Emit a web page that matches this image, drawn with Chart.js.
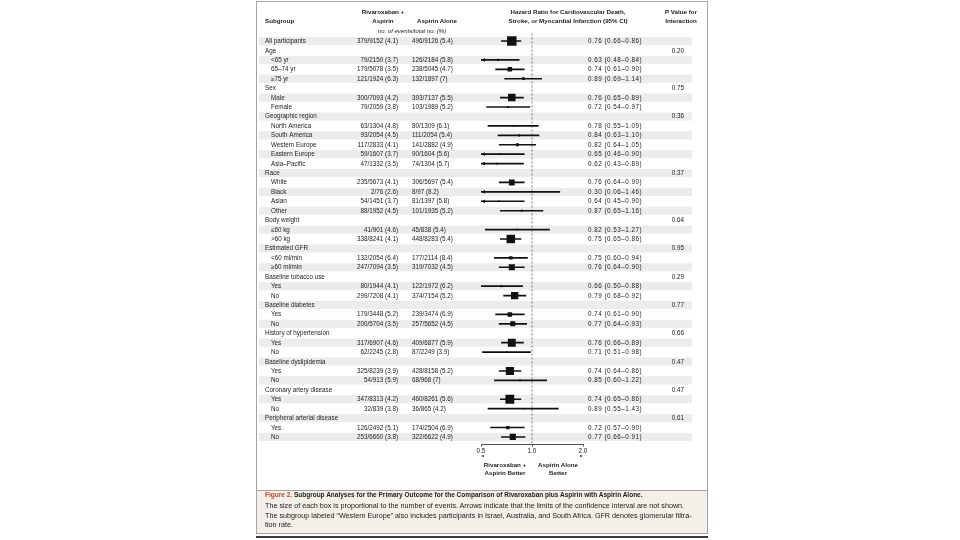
<!DOCTYPE html>
<html>
<head>
<meta charset="utf-8">
<script src="https://cdn.jsdelivr.net/npm/chart.js@4.4.1/dist/chart.umd.min.js"></script>
<style>
    html, body { margin: 0; padding: 0; background: #fff; }
    body { font-family: "Liberation Sans", Arial, sans-serif; color: #222; }
    #page { position: relative; width: 960px; height: 540px; overflow: hidden; }
    #forest { position: absolute; left: 0; top: 0; }
    .panel { position: absolute; left: 256px; top: 1px; width: 450px; height: 489px; border: 1px solid #a4a4a4; border-bottom: none; }
    .caption-box { position: absolute; left: 256px; top: 490px; width: 450px; height: 42px; background: #f3efe9; border: 1px solid #a4a4a4; }
    .rule { position: absolute; left: 256px; top: 536px; width: 452px; height: 2px; background: #3a3a3a; }
    .t { position: absolute; white-space: nowrap; line-height: 1; transform: translate(-50%, -50%); }
    .l { transform: translate(0, -50%); }
    .hd { font-weight: bold; font-size: 6.2px; }
    .ax { font-size: 6.2px; font-weight: bold; }
    .cap { font-size: 7.2px; color: #222; }
    .arr { position: absolute; width: 0; height: 0; border-top: 1.5px solid transparent; border-bottom: 1.5px solid transparent; }
</style>
</head>
<body>
<div id="page">
    <div class="panel"></div>
    <div class="caption-box"></div>
    <div class="rule"></div>
    <canvas id="forest" width="960" height="540"></canvas>

    <!-- column headers -->
    <div class="t l hd" style="left:265px; top:21px;">Subgroup</div>
    <div class="t hd" style="left:383px; top:12px;">Rivaroxaban +</div>
    <div class="t hd" style="left:383px; top:21px;">Aspirin</div>
    <div class="t hd" style="left:437px; top:21px;">Aspirin Alone</div>
    <div class="t" style="left:412px; top:31px; font-size:6px; font-style:italic;">no. of events/total no. (%)</div>
    <div class="t hd" style="left:568px; top:12px;">Hazard Ratio for Cardiovascular Death,</div>
    <div class="t hd" style="left:568px; top:21px;">Stroke, or Myocardial Infarction (95% CI)</div>
    <div class="t hd" style="left:681px; top:12px;">P Value for</div>
    <div class="t hd" style="left:681px; top:21px;">Interaction</div>

    <!-- direction labels under the axis -->
    <div class="arr" style="left:481px; top:455px; border-right:3px solid #222;"></div>
    <div class="arr" style="left:580px; top:455px; border-left:3px solid #222;"></div>
    <div class="t ax" style="left:505px; top:465px;">Rivaroxaban +</div>
    <div class="t ax" style="left:505px; top:473px;">Aspirin Better</div>
    <div class="t ax" style="left:558px; top:465px;">Aspirin Alone</div>
    <div class="t ax" style="left:558px; top:473px;">Better</div>

    <!-- caption -->
    <div class="t l cap" style="left:265px; top:495px; font-weight:bold; font-size:6.5px;"><span style="color:#c4452f;">Figure 2.</span> Subgroup Analyses for the Primary Outcome for the Comparison of Rivaroxaban plus Aspirin with Aspirin Alone.</div>
    <div class="t l cap" style="left:265px; top:506px;">The size of each box is proportional to the number of events. Arrows indicate that the limits of the confidence interval are not shown.</div>
    <div class="t l cap" style="left:265px; top:515.5px;">The subgroup labeled “Western Europe” also includes participants in Israel, Australia, and South Africa. GFR denotes glomerular filtra-</div>
    <div class="t l cap" style="left:265px; top:525px;">tion rate.</div>
</div>

<script>
// --- Data ---
const subgroups = [
    'All participants', 'Age', '<65 yr', '65–74 yr', '≥75 yr',
    'Sex', 'Male', 'Female',
    'Geographic region', 'North America', 'South America', 'Western Europe', 'Eastern Europe', 'Asia–Pacific',
    'Race', 'White', 'Black', 'Asian', 'Other',
    'Body weight', '≤60 kg', '>60 kg',
    'Estimated GFR', '<60 ml/min', '≥60 ml/min',
    'Baseline tobacco use', 'Yes', 'No',
    'Baseline diabetes', 'Yes', 'No',
    'History of hypertension', 'Yes', 'No',
    'Baseline dyslipidemia', 'Yes', 'No',
    'Coronary artery disease', 'Yes', 'No',
    'Peripheral arterial disease', 'Yes', 'No'
];

const rivaroxabanEvents = [
    '379/9152 (4.1)', null, '79/2150 (3.7)', '179/5078 (3.5)', '121/1924 (6.3)',
    null, '300/7093 (4.2)', '79/2059 (3.8)',
    null, '63/1304 (4.8)', '93/2054 (4.5)', '117/2833 (4.1)', '59/1607 (3.7)', '47/1332 (3.5)',
    null, '235/5673 (4.1)', '2/76 (2.6)', '54/1451 (3.7)', '88/1952 (4.5)',
    null, '41/901 (4.6)', '338/8241 (4.1)',
    null, '132/2054 (6.4)', '247/7094 (3.5)',
    null, '80/1944 (4.1)', '299/7208 (4.1)',
    null, '179/3448 (5.2)', '200/5704 (3.5)',
    null, '317/6907 (4.6)', '62/2245 (2.8)',
    null, '325/8239 (3.9)', '54/913 (5.9)',
    null, '347/8313 (4.2)', '32/839 (3.8)',
    null, '126/2492 (5.1)', '253/6660 (3.8)'
];

const aspirinEvents = [
    '496/9126 (5.4)', null, '126/2184 (5.8)', '238/5045 (4.7)', '132/1897 (7)',
    null, '393/7137 (5.5)', '103/1989 (5.2)',
    null, '80/1309 (6.1)', '111/2054 (5.4)', '141/2882 (4.9)', '90/1604 (5.6)', '74/1304 (5.7)',
    null, '306/5697 (5.4)', '8/97 (8.2)', '81/1397 (5.8)', '101/1935 (5.2)',
    null, '45/838 (5.4)', '448/8283 (5.4)',
    null, '177/2114 (8.4)', '319/7032 (4.5)',
    null, '122/1972 (6.2)', '374/7154 (5.2)',
    null, '239/3474 (6.9)', '257/5652 (4.5)',
    null, '409/6877 (5.9)', '87/2249 (3.9)',
    null, '428/8158 (5.2)', '68/968 (7)',
    null, '460/8261 (5.6)', '36/865 (4.2)',
    null, '174/2504 (6.9)', '322/6622 (4.9)'
];

const hazardRatio = [
    0.76, null, 0.63, 0.74, 0.89,
    null, 0.76, 0.72,
    null, 0.78, 0.84, 0.82, 0.65, 0.62,
    null, 0.76, 0.30, 0.64, 0.87,
    null, 0.82, 0.75,
    null, 0.75, 0.76,
    null, 0.66, 0.79,
    null, 0.74, 0.77,
    null, 0.76, 0.71,
    null, 0.74, 0.85,
    null, 0.74, 0.89,
    null, 0.72, 0.77
];

const ciLower = [
    0.66, null, 0.48, 0.61, 0.69,
    null, 0.65, 0.54,
    null, 0.55, 0.63, 0.64, 0.46, 0.43,
    null, 0.64, 0.06, 0.45, 0.65,
    null, 0.53, 0.65,
    null, 0.60, 0.64,
    null, 0.50, 0.68,
    null, 0.61, 0.64,
    null, 0.66, 0.51,
    null, 0.64, 0.60,
    null, 0.65, 0.55,
    null, 0.57, 0.66
];

const ciUpper = [
    0.86, null, 0.84, 0.90, 1.14,
    null, 0.89, 0.97,
    null, 1.09, 1.10, 1.05, 0.90, 0.89,
    null, 0.90, 1.46, 0.90, 1.16,
    null, 1.27, 0.86,
    null, 0.94, 0.90,
    null, 0.88, 0.92,
    null, 0.90, 0.93,
    null, 0.89, 0.98,
    null, 0.86, 1.22,
    null, 0.86, 1.43,
    null, 0.90, 0.91
];

const pInteraction = [
    null, '0.20', null, null, null,
    '0.75', null, null,
    '0.36', null, null, null, null, null,
    '0.37', null, null, null, null,
    '0.64', null, null,
    '0.95', null, null,
    '0.29', null, null,
    '0.77', null, null,
    '0.66', null, null,
    '0.47', null, null,
    '0.47', null, null,
    '0.61', null, null
];

const xTicks = [0.5, 1.0, 2.0];
const xMin = 0.5;
const xMax = 2.0;

// --- Build datasets ---
const fmt = v => v.toFixed(2);
const totalEvents = rivaroxabanEvents.map((r, i) => r === null ? 0 : parseInt(r) + parseInt(aspirinEvents[i]));
const maxEvents = totalEvents[0];

const boxPoints = [];
const boxRadius = [];
const ciBars = [];
const leftArrows = [];

hazardRatio.forEach((hr, i) => {
    if (hr === null) return;
    boxPoints.push({ x: hr, y: i });
    const side = Math.max(1.6, 9.5 * totalEvents[i] / maxEvents);
    boxRadius.push(side / Math.SQRT2);
    ciBars.push({ x: [Math.max(ciLower[i], xMin), Math.min(ciUpper[i], xMax)], y: i });
    if (ciLower[i] < xMin) leftArrows.push({ x: 0.52, y: i });
});

// --- Table text drawn against the row scale ---
const tablePlugin = {
    id: 'tableText',
    beforeDraw(chart) {
        const ctx = chart.ctx;
        const y = chart.scales.y;
        ctx.save();
        ctx.fillStyle = '#ececec';
        subgroups.forEach((_, i) => {
            if (i % 2 !== 0) return;
            const py = y.getPixelForValue(i);
            ctx.fillRect(259, py - 4.1, 433, 8.2);
        });
        ctx.restore();
    },
    afterDraw(chart) {
        const ctx = chart.ctx;
        const y = chart.scales.y;
        ctx.save();
        ctx.fillStyle = '#222';
        ctx.font = '6.3px "Liberation Sans", Arial, sans-serif';
        ctx.textBaseline = 'middle';
        subgroups.forEach((name, i) => {
            const py = y.getPixelForValue(i) + 0.3;
            const isSub = i > 0 && rivaroxabanEvents[i] !== null;
            ctx.textAlign = 'left';
            ctx.fillText(name, isSub ? 271 : 265, py);
            if (rivaroxabanEvents[i] !== null) {
                ctx.textAlign = 'right';
                ctx.fillText(rivaroxabanEvents[i], 398, py);
                ctx.textAlign = 'left';
                ctx.fillText(aspirinEvents[i], 412, py);
                // HR column is set a little looser in the original
                ctx.letterSpacing = '0.5px';
                ctx.fillText(`${fmt(hazardRatio[i])} (${fmt(ciLower[i])}–${fmt(ciUpper[i])})`, 588, py);
                ctx.letterSpacing = '0px';
            }
            if (pInteraction[i] !== null) {
                ctx.textAlign = 'right';
                ctx.fillText(pInteraction[i], 684, py);
            }
        });
        ctx.restore();
    }
};

const ctx = document.getElementById('forest').getContext('2d');

new Chart(ctx, {
    type: 'scatter',
    data: {
        datasets: [
            {
                // boxes
                type: 'scatter',
                data: boxPoints,
                pointStyle: 'rect',
                pointRadius: boxRadius,
                pointHoverRadius: boxRadius,
                backgroundColor: '#111',
                borderWidth: 0,
                order: 0
            },
            {
                // arrows for intervals beyond the axis
                type: 'scatter',
                data: leftArrows,
                pointStyle: 'triangle',
                rotation: -90,
                pointRadius: 2.2,
                backgroundColor: '#111',
                borderWidth: 0,
                order: 0
            },
            {
                // confidence intervals
                type: 'bar',
                indexAxis: 'y',
                data: ciBars,
                barThickness: 1,
                backgroundColor: '#111',
                borderWidth: 0,
                grouped: false,
                order: 1
            },
            {
                // line of no effect
                type: 'line',
                data: [{ x: 1, y: -0.8 }, { x: 1, y: 42.8 }],
                borderColor: '#555',
                borderWidth: 0.8,
                borderDash: [2, 2],
                pointRadius: 0,
                order: 2
            }
        ]
    },
    options: {
        responsive: false,
        animation: false,
        layout: {
            padding: { left: 481, right: 377, top: 33.5, bottom: 81.5 }
        },
        plugins: {
            legend: { display: false },
            tooltip: { enabled: false }
        },
        scales: {
            x: {
                type: 'logarithmic',
                min: xMin,
                max: xMax,
                offset: false,
                afterBuildTicks: scale => { scale.ticks = xTicks.map(v => ({ value: v })); },
                afterFit: scale => { scale.height = 14; },
                grid: { display: true, drawOnChartArea: false, drawTicks: true, tickLength: 2, color: '#222', lineWidth: 0.8 },
                border: { display: true, color: '#222', width: 0.8 },
                ticks: {
                    color: '#222',
                    padding: 1,
                    maxRotation: 0,
                    autoSkip: false,
                    font: { family: '"Liberation Sans", Arial, sans-serif', size: 6.3 },
                    callback: value => Number(value).toFixed(1)
                }
            },
            y: {
                type: 'linear',
                reverse: true,
                offset: false,
                min: -0.8,
                max: 42.8,
                display: false
            }
        }
    },
    plugins: [tablePlugin]
});
</script>
</body>
</html>
